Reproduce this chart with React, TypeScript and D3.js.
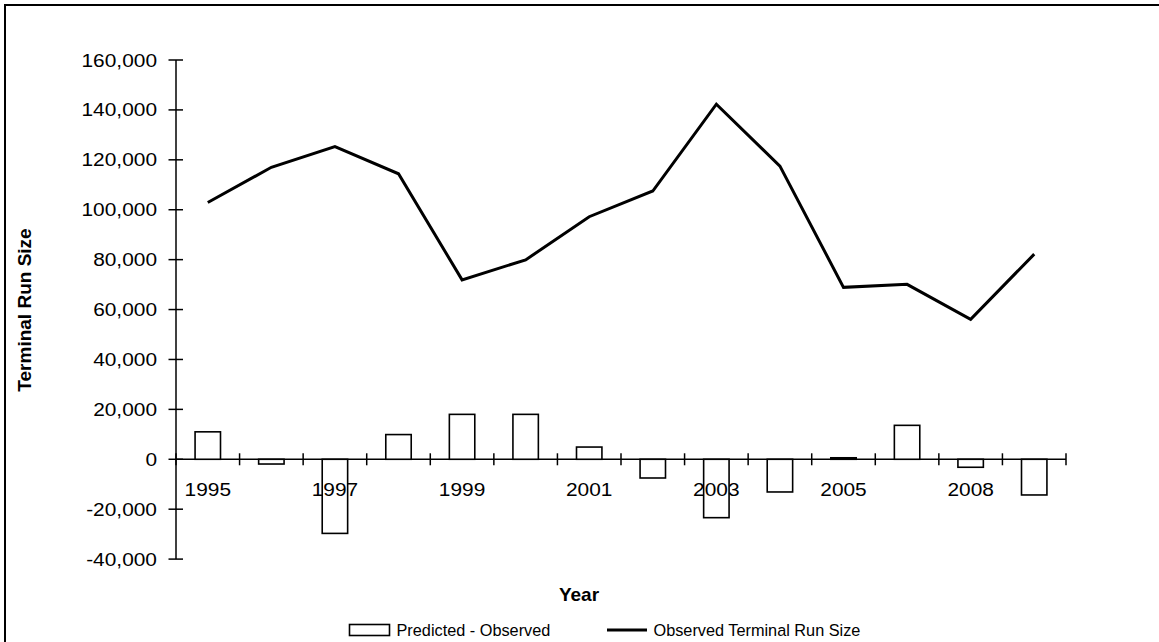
import React from "react";
import * as d3 from "d3";

const years = ["1995","1996","1997","1998","1999","2000","2001","2002","2003","2004","2005","2006","2008","2009"];
const predictedMinusObserved = [11000,-1900,-29700,9900,18000,18000,4900,-7500,-23400,-13100,600,13600,-3200,-14300];
const observedRunSize = [102900,117000,125300,114400,71900,79900,97200,107500,142300,117500,68900,70100,56100,82200];
const yTicks = [-40000,-20000,0,20000,40000,60000,80000,100000,120000,140000,160000];
const shownYearLabels = ["1995","1997","1999","2001","2003","2005","2008"];

const W = 1159, H = 642;
const FONT = "Liberation Sans, Arial, sans-serif";

export default function App() {
  const x = d3.scaleBand<string>().domain(years).range([176, 1066]).padding(0);
  const y = d3.scaleLinear().domain([-40000, 160000]).range([559.1, 60]);
  const bw = x.bandwidth();
  const barW = bw * 0.4;
  const cx = (c: string) => (x(c) as number) + bw / 2;
  const line = d3.line<number>().x((_, i) => cx(years[i])).y((d) => y(d));
  const fmt = d3.formatLocale({ decimal: ".", thousands: ",", grouping: [3], currency: ["", ""], minus: "-" }).format(",");
  const y0 = y(0);
  const tickXs = years.map((c) => x(c) as number).concat([1066]);

  return (
    <svg width={W} height={H} style={{ position: "absolute", left: 0, top: 0, background: "#fff" }}
      fontFamily={FONT}>
      <rect x={0} y={0} width={W} height={H} fill="#fff" />
      <rect x={5} y={5} width={W + 20} height={H + 20} fill="none" stroke="#000" strokeWidth={2} />

      {/* y axis */}
      <line x1={176} x2={176} y1={y(160000)} y2={y(-40000)} stroke="#000" strokeWidth={1.5} />
      {yTicks.map((t) => (
        <g key={t}>
          <line x1={168.5} x2={183} y1={y(t)} y2={y(t)} stroke="#000" strokeWidth={1.5} />
          <text transform={`translate(157,${y(t)}) scale(1.13,1)`} textAnchor="end" dominantBaseline="central"
            fontSize={18.5} fill="#000">{fmt(t)}</text>
        </g>
      ))}

      {/* x axis */}
      <line x1={176} x2={1066} y1={y0} y2={y0} stroke="#000" strokeWidth={1.5} />
      {tickXs.map((tx, i) => (
        <line key={i} x1={tx} x2={tx} y1={y0 - 6} y2={y0 + 6} stroke="#000" strokeWidth={1.5} />
      ))}

      {/* bars */}
      {predictedMinusObserved.map((v, i) => {
        const c = years[i];
        const top = Math.min(y(v), y0);
        const h = Math.max(Math.abs(y(v) - y0), 1);
        return (
          <rect key={c} x={cx(c) - barW / 2} y={top} width={barW} height={h}
            fill="#fff" stroke="#000" strokeWidth={1.6} />
        );
      })}

      {/* x labels */}
      {shownYearLabels.map((c) => (
        <text key={c} transform={`translate(${cx(c)},496) scale(1.13,1)`} textAnchor="middle"
          fontSize={18.5} fill="#000">{c}</text>
      ))}

      {/* line */}
      <path d={line(observedRunSize) || ""} fill="none" stroke="#000" strokeWidth={3} strokeLinejoin="miter" />

      {/* axis titles */}
      <text transform="translate(31,310) rotate(-90)" textAnchor="middle" fontSize={19} fontWeight="bold" fill="#000">
        Terminal Run Size
      </text>
      <text x={579} y={601} textAnchor="middle" fontSize={19} fontWeight="bold" fill="#000">Year</text>

      {/* legend */}
      <rect x={349.5} y={624.5} width={40} height={11} fill="#fff" stroke="#000" strokeWidth={1.6} />
      <text x={396.5} y={636} fontSize={16.3} fill="#000">Predicted - Observed</text>
      <line x1={607} x2={647} y1={630} y2={630} stroke="#000" strokeWidth={3} />
      <text x={653.5} y={636} fontSize={16.3} fill="#000">Observed Terminal Run Size</text>
    </svg>
  );
}
